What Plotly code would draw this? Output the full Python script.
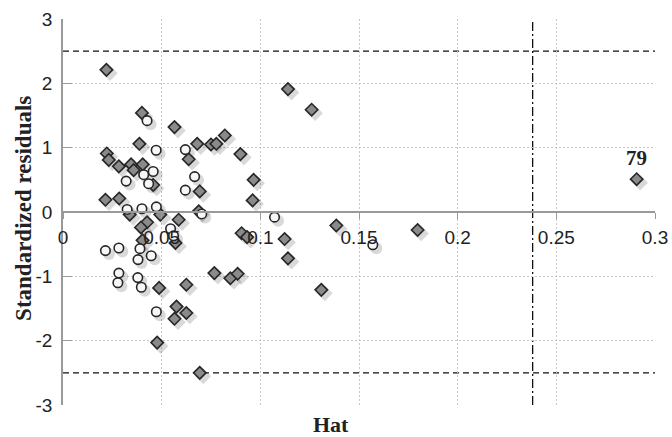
import plotly.graph_objects as go

# ---- data ----
diamond_hat = [0.022, 0.114, 0.126, 0.040, 0.0565, 0.082, 0.068, 0.075, 0.0777, 0.0387,
               0.0899, 0.0222, 0.0232, 0.0283, 0.0345, 0.0358, 0.0404, 0.0637, 0.0966, 0.0457,
               0.0693, 0.0215, 0.0285, 0.0961, 0.0338, 0.0493, 0.0426, 0.0395, 0.0586, 0.0570,
               0.0403, 0.0688, 0.0905, 0.0933, 0.1123, 0.1140, 0.1385, 0.1797, 0.2907, 0.0767,
               0.0848, 0.0885, 0.1309, 0.0487, 0.0625, 0.0575, 0.0565, 0.0625, 0.0477, 0.0693]
diamond_res = [2.21, 1.91, 1.59, 1.54, 1.32, 1.19, 1.06, 1.05, 1.06, 1.06,
               0.90, 0.91, 0.81, 0.71, 0.74, 0.65, 0.74, 0.82, 0.50, 0.42,
               0.32, 0.19, 0.21, 0.18, -0.04, -0.04, -0.16, -0.24, -0.12, -0.48,
               -0.44, 0.01, -0.33, -0.39, -0.42, -0.72, -0.21, -0.28, 0.51, -0.95,
               -1.03, -0.96, -1.21, -1.18, -1.13, -1.47, -1.66, -1.57, -2.03, -2.50]

circle_hat = [0.0426, 0.0472, 0.0620, 0.0457, 0.0409, 0.0320, 0.0434, 0.0667, 0.0620, 0.0325,
              0.0400, 0.0473, 0.0703, 0.1072, 0.1570, 0.0215, 0.0283, 0.0390, 0.0380, 0.0447,
              0.0283, 0.0278, 0.0379, 0.0397, 0.0473, 0.0545, 0.0560]
circle_res = [1.42, 0.96, 0.97, 0.63, 0.58, 0.48, 0.44, 0.55, 0.34, 0.04,
              0.05, 0.08, -0.03, -0.08, -0.51, -0.60, -0.56, -0.57, -0.74, -0.68,
              -0.95, -1.10, -1.02, -1.17, -1.55, -0.26, -0.37]

outlier_label = "79"
outlier_index = 38          # position of observation 79 in the diamond series
hat_cutoff = 0.238
resid_limits = [2.5, -2.5]

x_ticks = [0, 0.05, 0.1, 0.15, 0.2, 0.25, 0.3]
x_tick_text = ["0", "0.05", "0.1", "0.15", "0.2", "0.25", "0.3"]
y_ticks = [-3, -2, -1, 0, 1, 2, 3]
y_tick_text = ["-3", "-2", "-1", "0", "1", "2", "3"]
x_title = "Hat"
y_title = "Standardized residuals"

# ---- figure ----
X_RANGE = [0, 0.3]
Y_RANGE = [-3, 3]
PLOT_W, PLOT_H = 592, 386
dx = 3.5 * (X_RANGE[1] - X_RANGE[0]) / PLOT_W
dy = 3.5 * (Y_RANGE[1] - Y_RANGE[0]) / PLOT_H

fig = go.Figure()

# soft shadows: same data on an overlay axis pair shifted by a few pixels
for xs, ys, sym in [(diamond_hat, diamond_res, "diamond"), (circle_hat, circle_res, "circle")]:
    fig.add_trace(go.Scatter(x=xs, y=ys, mode="markers", xaxis="x2", yaxis="y2",
                             hoverinfo="skip", showlegend=False,
                             marker=dict(symbol=sym, size=12,
                                         color="rgba(0,0,0,0.15)", line=dict(width=0))))

fig.add_trace(go.Scatter(x=diamond_hat, y=diamond_res, mode="markers", xaxis="x3", yaxis="y3",
                         showlegend=False,
                         marker=dict(symbol="diamond", size=9.5, color="#8a8a8a",
                                     line=dict(color="#262626", width=1.6))))
fig.add_trace(go.Scatter(x=circle_hat, y=circle_res, mode="markers", xaxis="x3", yaxis="y3",
                         showlegend=False,
                         marker=dict(symbol="circle", size=9.5, color="#f7f7f7",
                                     line=dict(color="#262626", width=1.6))))

shapes = []
for r in resid_limits:
    shapes.append(dict(type="line", xref="x", yref="y", x0=X_RANGE[0], x1=X_RANGE[1], y0=r, y1=r,
                       line=dict(color="#111", width=1.4, dash="6px,4px"), layer="below"))
shapes.append(dict(type="line", xref="x", yref="y", x0=hat_cutoff, x1=hat_cutoff,
                   y0=Y_RANGE[0], y1=Y_RANGE[1],
                   line=dict(color="#111", width=1.3, dash="9px,3px,2px,3px"), layer="below"))

tick_font = dict(family="Liberation Sans, Arial, Helvetica, sans-serif", size=19, color="#222")
title_font = dict(family="Liberation Serif, Times New Roman, serif", size=22, color="#222")
label_font = dict(family="Liberation Serif, Times New Roman, serif", size=21, color="#222")

annotations = [
    dict(text=f"<b>{x_title}</b>", xref="paper", yref="paper", x=0.453, y=-0.05,
         xanchor="center", yanchor="middle", showarrow=False, font=title_font),
    dict(text=f"<b>{y_title}</b>", xref="paper", yref="paper", x=-0.068, y=0.51,
         xanchor="center", yanchor="middle", textangle=-90, showarrow=False,
         font=dict(title_font, size=23)),
    dict(text=f"<b>{outlier_label}</b>", xref="x", yref="y",
         x=diamond_hat[outlier_index], y=diamond_res[outlier_index], yshift=21,
         xanchor="center", yanchor="middle", showarrow=False, font=label_font),
]

fig.update_layout(
    width=672, height=437,
    margin=dict(l=63, r=17, t=19, b=32, autoexpand=False),
    paper_bgcolor="white", plot_bgcolor="white",
    shapes=shapes, annotations=annotations,
    xaxis=dict(range=X_RANGE, tickvals=x_ticks, ticktext=x_tick_text, tickfont=tick_font,
               showgrid=True, gridcolor="#c8c8c8", griddash="2px,2px", gridwidth=1,
               zeroline=False, showline=True, linecolor="#9a9a9a", linewidth=1.5,
               ticks="outside", ticklen=6, tickcolor="#9a9a9a", tickwidth=1.2,
               ticklabelstandoff=2, anchor="free", position=0.5, automargin=False),
    yaxis=dict(range=Y_RANGE, tickvals=y_ticks, ticktext=y_tick_text, tickfont=tick_font,
               showgrid=True, gridcolor="#c8c8c8", griddash="2px,2px", gridwidth=1,
               zeroline=False, showline=True, linecolor="#9a9a9a", linewidth=1.5,
               ticks="inside", ticklen=9, tickcolor="#9a9a9a", tickwidth=1.2,
               ticklabelstandoff=5, automargin=False),
    xaxis2=dict(range=[X_RANGE[0] - dx, X_RANGE[1] - dx], overlaying="x", visible=False),
    yaxis2=dict(range=[Y_RANGE[0] + dy, Y_RANGE[1] + dy], overlaying="y", visible=False),
    xaxis3=dict(range=X_RANGE, overlaying="x", visible=False),
    yaxis3=dict(range=Y_RANGE, overlaying="y", visible=False),
)

fig.write_html("out.html")
